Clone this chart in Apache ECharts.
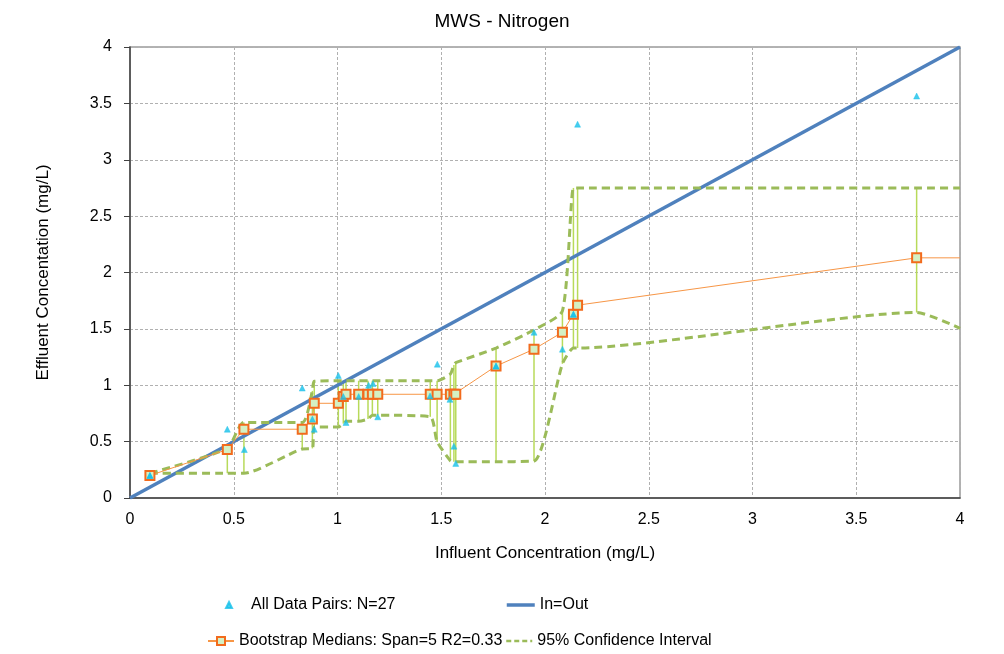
<!DOCTYPE html>
<html>
<head>
<meta charset="utf-8">
<script src="https://cdn.jsdelivr.net/npm/echarts@6/dist/echarts.min.js"></script>
<style>
html,body{margin:0;padding:0;background:#fff;}
#chart{width:1004px;height:654px;}
</style>
</head>
<body>
<div id="chart"></div>
<script>
// ---- data ----
var pairsX = [0.096, 0.469, 0.551, 0.830, 0.879, 0.888, 1.004, 1.028, 1.041, 1.102, 1.150, 1.171, 1.194, 1.446, 1.481, 1.542, 1.561, 1.570, 1.764, 1.947, 2.084, 2.137, 2.157, 3.791, 0.096, 1.764, 2.137];
var pairsY = [0.20, 0.61, 0.43, 0.975, 0.70, 0.61, 1.087, 0.90, 0.67, 0.90, 1.00, 1.015, 0.72, 0.905, 1.187, 0.875, 0.46, 0.307, 1.17, 1.47, 1.32, 1.63, 3.315, 3.565, 0.20, 1.17, 1.63];

var medX = [0.096, 0.469, 0.549, 0.830, 0.879, 0.888, 1.004, 1.028, 1.041, 1.102, 1.147, 1.168, 1.194, 1.447, 1.480, 1.544, 1.561, 1.570, 1.764, 1.947, 2.084, 2.137, 2.157, 3.791];
var medY = [0.20, 0.43, 0.61, 0.61, 0.70, 0.84, 0.84, 0.90, 0.92, 0.92, 0.92, 0.92, 0.92, 0.92, 0.92, 0.92, 0.92, 0.92, 1.17, 1.32, 1.47, 1.63, 1.71, 2.13];
var ciLower = [0.22, 0.22, 0.22, 0.435, 0.44, 0.63, 0.63, 0.66, 0.68, 0.68, 0.70, 0.735, 0.735, 0.72, 0.50, 0.33, 0.322, 0.322, 0.322, 0.328, 1.19, 1.33, 1.33, 1.645];
var ciUpper = [0.22, 0.44, 0.67, 0.67, 0.95, 1.035, 1.04, 1.04, 1.04, 1.04, 1.04, 1.04, 1.04, 1.04, 1.04, 1.10, 1.18, 1.20, 1.33, 1.49, 1.66, 2.75, 2.75, 2.75];
// continuation of the curves to the right edge
var endX = 4;
var endMedian = 2.13;
var endLower = 1.505;
var endUpper = 2.75;

var inOutX = [0, 4];
var inOutY = [0, 4];

var xTicks = {min: 0, max: 4, interval: 0.5};
var yTicks = {min: 0, max: 4, interval: 0.5};

// ---- build series data ----
function zip(a, b) { return a.map(function (v, i) { return [v, b[i]]; }); }
var pairsData = zip(pairsX, pairsY);
var medData = zip(medX, medY);
medData.push({value: [endX, endMedian], symbol: 'none'});
var lowData = zip(medX, ciLower); lowData.push([endX, endLower]);
var upData = zip(medX, ciUpper); upData.push([endX, endUpper]);
var barData = medX.map(function (x, i) { return [x, ciLower[i], ciUpper[i]]; });

var FONT = '"Liberation Sans", Arial, sans-serif';
var chart = echarts.init(document.getElementById('chart'), null, {renderer: 'canvas'});

function legendAt(name, left, top, w, h, extra) {
  return Object.assign({
    orient: 'horizontal', padding: 0, data: [name], left: left, top: top,
    itemWidth: w, itemHeight: h,
    textStyle: {fontFamily: FONT, fontSize: 16, color: '#000'}
  }, extra || {});
}

chart.setOption({
  animation: false,
  backgroundColor: '#fff',
  title: {
    text: 'MWS - Nitrogen', left: 'center', top: 7,
    textStyle: {fontFamily: FONT, fontSize: 19, fontWeight: 'normal', color: '#000'}
  },
  legend: [
    legendAt('All Data Pairs: N=27', 225, 597, 6, 6,
      {textStyle: {fontFamily: FONT, fontSize: 16, color: '#000', padding: [0, 0, 0, 14]}}),
    legendAt('In=Out', 505, 597, 28, 12,
      {itemStyle: {opacity: 0}, lineStyle: {width: 3.5}}),
    legendAt('Bootstrap Medians: Span=5 R2=0.33', 207, 633, 26, 10),
    legendAt('95% Confidence Interval', 505, 633, 26, 12,
      {itemStyle: {opacity: 0}, lineStyle: {width: 2.5, type: [5, 3]}})
  ],
  grid: {
    left: 130, right: 44, top: 47, bottom: 156,
    show: true, borderColor: '#9a9a9a', borderWidth: 1.5, backgroundColor: 'transparent'
  },
  xAxis: {
    type: 'value', min: xTicks.min, max: xTicks.max, interval: xTicks.interval,
    name: 'Influent Concentration (mg/L)', nameLocation: 'middle', nameGap: 47,
    nameTextStyle: {fontFamily: FONT, fontSize: 17, color: '#000'},
    axisLine: {show: true, onZero: false, lineStyle: {color: '#404040', width: 1.5}},
    axisTick: {show: false},
    axisLabel: {fontFamily: FONT, fontSize: 16, color: '#000', margin: 14},
    splitLine: {show: true, lineStyle: {color: '#b0b0b0', type: [3, 2], width: 1}}
  },
  yAxis: {
    type: 'value', min: yTicks.min, max: yTicks.max, interval: yTicks.interval,
    name: 'Effluent Concentation (mg/L)', nameLocation: 'middle', nameGap: 78,
    nameTextStyle: {fontFamily: FONT, fontSize: 17, color: '#000'},
    axisLine: {show: true, onZero: false, lineStyle: {color: '#404040', width: 1.5}},
    axisTick: {show: true, inside: false, length: 6, lineStyle: {color: '#404040'}},
    axisLabel: {fontFamily: FONT, fontSize: 16, color: '#000', margin: 18},
    splitLine: {show: true, lineStyle: {color: '#b0b0b0', type: [3, 2], width: 1}}
  },
  series: [
    {
      type: 'custom', name: 'CI bars', z: 1, silent: true,
      data: barData,
      renderItem: function (params, api) {
        var x = api.value(0);
        var p1 = api.coord([x, api.value(1)]);
        var p2 = api.coord([x, api.value(2)]);
        return {
          type: 'line',
          shape: {x1: p1[0], y1: p1[1], x2: p2[0], y2: p2[1]},
          style: {stroke: '#b8da5a', lineWidth: 1.5}
        };
      }
    },
    {
      type: 'line', name: 'In=Out', z: 2,
      data: zip(inOutX, inOutY), showSymbol: false, symbol: 'none',
      lineStyle: {color: '#4f81bd', width: 3.5}, itemStyle: {color: '#4f81bd'}
    },
    {
      type: 'line', name: '95% Confidence Interval', z: 3,
      data: upData, symbol: 'none', smooth: 0.2,
      lineStyle: {color: '#9bbb59', width: 3, type: [8, 5]}, itemStyle: {color: '#9bbb59'}
    },
    {
      type: 'line', name: '95% Confidence Interval', z: 3,
      data: lowData, symbol: 'none', smooth: 0.2,
      lineStyle: {color: '#9bbb59', width: 3, type: [8, 5]}, itemStyle: {color: '#9bbb59'}
    },
    {
      type: 'line', name: 'Bootstrap Medians: Span=5 R2=0.33', z: 4,
      data: medData, symbol: 'rect', symbolSize: 9, showAllSymbol: true,
      lineStyle: {color: '#f79646', width: 1},
      itemStyle: {color: '#d4f0c4', borderColor: '#f26b1d', borderWidth: 2}
    },
    {
      type: 'scatter', name: 'All Data Pairs: N=27', z: 5,
      data: pairsData, symbol: 'triangle', symbolSize: 6,
      itemStyle: {color: '#17c0ea', borderColor: '#17c0ea', borderWidth: 0.5}
    }
  ]
});
</script>
</body>
</html>
